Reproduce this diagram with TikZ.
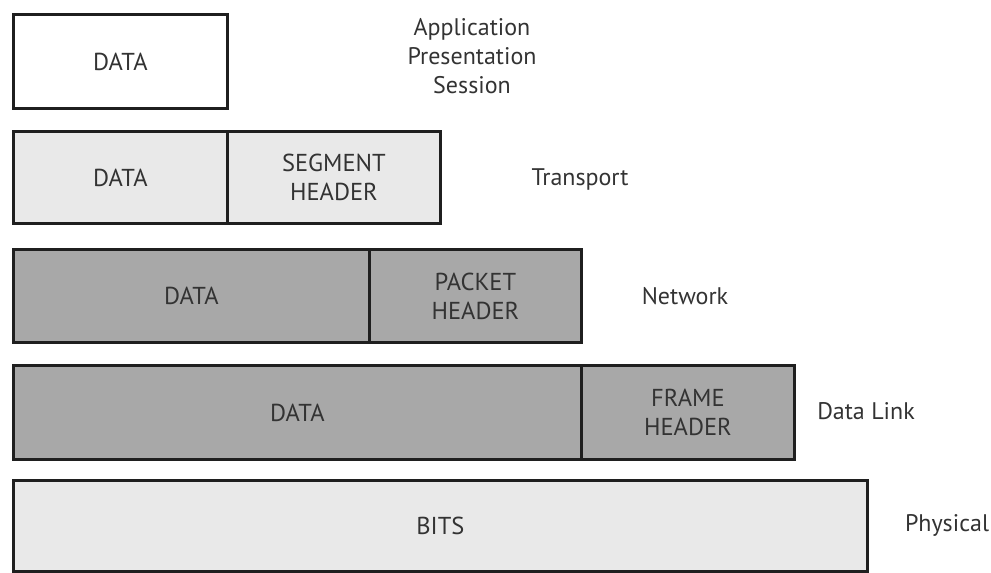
\documentclass[tikz,border=0pt]{standalone}
\usepackage{fontspec}
\setmainfont{PT Sans}
\begin{document}
\begin{tikzpicture}[x=1pt,y=-1pt,
  cell/.style={draw=black!88, line width=2.8pt, inner sep=0pt, anchor=north west, text=black!80, font=\fontsize{24.5}{29}\selectfont, align=center},
  lightcell/.style={cell, fill=gray!17},
  darkcell/.style={cell, fill=gray!68},
  whitecell/.style={cell, fill=white},
  layer/.style={text=black!80, font=\fontsize{24}{29}\selectfont, align=center}]
\useasboundingbox (0,0) rectangle (991,573);
% row 1
\node[whitecell, minimum width=214pt, minimum height=94pt] (d1) at (12,13) {DATA};
% row 2
\node[lightcell, minimum width=214pt, minimum height=92pt] (d2) at (12,130) {DATA};
\node[lightcell, minimum width=213pt, minimum height=92pt] (h2) at (226,130) {SEGMENT\\HEADER};
% row 3
\node[darkcell, minimum width=356pt, minimum height=93pt] (d3) at (12,248) {DATA};
\node[darkcell, minimum width=212pt, minimum height=93pt] (h3) at (368,248) {PACKET\\HEADER};
% row 4
\node[darkcell, minimum width=568pt, minimum height=94pt] (d4) at (12,364) {DATA};
\node[darkcell, minimum width=213pt, minimum height=94pt] (h4) at (580,364) {FRAME\\HEADER};
% row 5
\node[lightcell, minimum width=854pt, minimum height=91pt] (d5) at (12,479) {BITS};
% layer labels
\node[layer] (l1) at (472,56) {Application\\Presentation\\Session};
\node[layer] (l2) at (580,179) {Transport};
\node[layer] (l3) at (685,296) {Network};
\node[layer] (l4) at (866,411) {Data Link};
\node[layer] (l5) at (947,525) {Physical};
\end{tikzpicture}
\end{document}
